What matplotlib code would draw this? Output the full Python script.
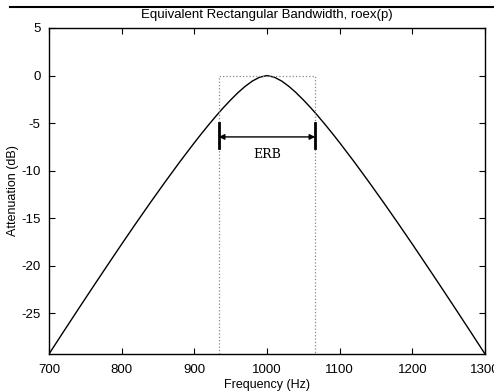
import numpy as np
import matplotlib
matplotlib.use('Agg')
import matplotlib.pyplot as plt

# roex(p) attenuation, fc = 1000 Hz
freq = [700, 720, 740, 760, 780, 800, 820, 840, 860, 880, 900, 910, 920, 930,
        940, 950, 960, 970, 980, 990, 1000, 1010, 1020, 1030, 1040, 1050, 1060,
        1070, 1080, 1090, 1100, 1120, 1140, 1160, 1180, 1200, 1220, 1240, 1260,
        1280, 1300]
atten = [-29.27, -26.92, -24.59, -22.28, -19.99, -17.72, -15.49, -13.30,
         -11.16, -9.07, -7.06, -6.09, -5.15, -4.24, -3.37, -2.56, -1.80, -1.13,
         -0.57, -0.17, 0.0, -0.17, -0.57, -1.13, -1.80, -2.56, -3.37, -4.24,
         -5.15, -6.09, -7.06, -9.07, -11.16, -13.30, -15.49, -17.72, -19.99,
         -22.28, -24.59, -26.92, -29.27]
erb_lo = 933.7
erb_hi = 1066.3
xticks = [700, 800, 900, 1000, 1100, 1200, 1300]
yticks = [-25, -20, -15, -10, -5, 0, 5]

plt.rcParams['font.family'] = ['Liberation Sans', 'DejaVu Sans']
plt.rcParams['axes.unicode_minus'] = False
fig = plt.figure(figsize=(4.94, 3.91), dpi=100)
ax = fig.add_axes([0.0992, 0.0946, 0.8826, 0.8338])

ax.plot(freq, atten, color='black', lw=1.0)
# ERB rectangle
ax.plot([erb_lo, erb_lo, erb_hi, erb_hi], [-29.27, 0, 0, -29.27],
        color='#888888', lw=0.9, linestyle=':')
# arrow and end bars
ax.annotate('', xy=(erb_lo, -6.45), xytext=(erb_hi, -6.45),
            arrowprops=dict(arrowstyle='<|-|>', color='black', lw=1.0,
                            mutation_scale=8, shrinkA=0, shrinkB=0))
ax.plot([erb_lo, erb_lo], [-4.95, -7.65], color='black', lw=2)
ax.plot([erb_hi, erb_hi], [-4.95, -7.65], color='black', lw=2)
ax.text(1000, -8.35, 'ERB', family='DejaVu Serif', fontsize=9,
        ha='center', va='center')

ax.set_xlim(700, 1300)
ax.set_ylim(-29.27, 5)
ax.set_xticks(xticks)
ax.set_yticks(yticks)
ax.tick_params(direction='in', top=True, right=True, labelsize=9.5, length=4)
ax.tick_params(axis='x', pad=7)
ax.tick_params(axis='y', pad=6)
for s in ax.spines.values():
    s.set_linewidth(1.0)
ax.set_xlabel('Frequency (Hz)', fontsize=9, labelpad=2)
ax.set_ylabel('Attenuation (dB)', fontsize=9, labelpad=2)

fig.text(0.54, 0.962, 'Equivalent Rectangular Bandwidth, roex(p)',
         fontsize=9.5, ha='center', va='center')
fig.add_artist(plt.Line2D([0.02, 1.0], [0.981, 0.981], color='black', lw=1.5))

fig.savefig('out.png', dpi=100)
